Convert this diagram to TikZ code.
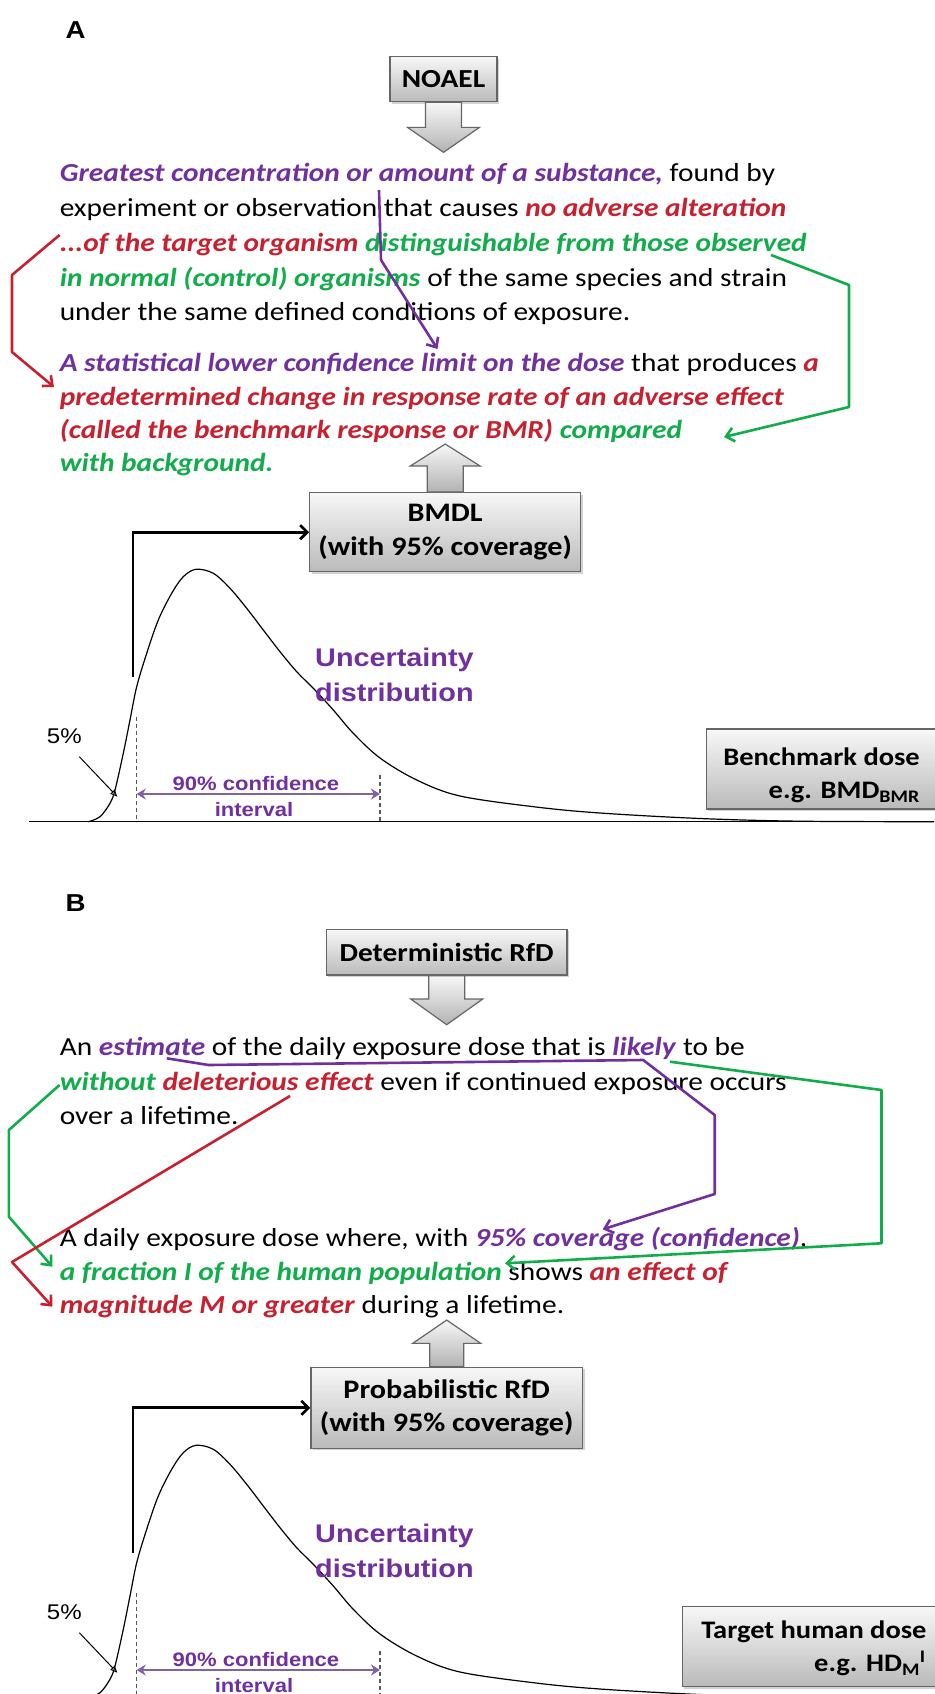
\documentclass[tikz,border=0pt]{standalone}
\usepackage{fontspec}
\setmainfont{Carlito}[FakeStretch=1.13]
\newfontfamily\arialf{Liberation Sans}[FakeStretch=1.13]
\usetikzlibrary{arrows.meta,shadows}
\definecolor{tpurple}{HTML}{7030A0}
\definecolor{tred}{HTML}{C8202F}
\definecolor{tgreen}{HTML}{12AD4B}
\definecolor{lpurple}{HTML}{8064A2}
\newcommand\txpu[1]{\textcolor{tpurple}{\textbf{\textit{#1}}}}
\newcommand\txrd[1]{\textcolor{tred}{\textbf{\textit{#1}}}}
\newcommand\txgr[1]{\textcolor{tgreen}{\textbf{\textit{#1}}}}
\tikzset{
  ln/.style={anchor=base west, inner sep=0pt, font=\fontsize{26}{30}\selectfont},
  graybox/.style={draw=black!60, line width=1.3pt, top color=black!3, bottom color=black!27,
    inner sep=0pt, drop shadow={shadow xshift=2pt, shadow yshift=-2pt, opacity=0.35}},
  blockarrow/.style={draw=black!60, line width=1.2pt, top color=black!3, bottom color=black!30, line join=miter},
  conn/.style={line width=2.6pt, -{Straight Barb[length=8pt,width=14pt]}, line join=round},
  bracket/.style={line width=2.7pt, black, -{Straight Barb[length=7pt,width=14pt]}},
  curveline/.style={line width=1.2pt, black},
  dashline/.style={line width=1.2pt, black!65, dash pattern=on 4pt off 3pt},
  ciarrow/.style={line width=2.7pt, lpurple, {Stealth[length=9pt,width=11pt]}-{Stealth[length=9pt,width=11pt]}},
  arlabel/.style={inner sep=0pt, font=\arialf\bfseries\fontsize{19.5}{19.5}\selectfont, text=tpurple},
  boxlabel/.style={font=\bfseries\fontsize{26.7}{33.3}\selectfont},
  sidelabel/.style={anchor=base east, inner sep=0pt, font=\bfseries\fontsize{25.2}{30}\selectfont}
}
\newcommand\distpart[2]{%
  \draw[curveline] plot[smooth, tension=0.55] coordinates {
    (88.3,821.7) (100,816.7) (110,803.3) (115,790) (123.3,753.3) (130,720) (136.7,686.7)
    (146.7,653.3) (158.3,620) (171.7,593.3) (183.3,576.7) (196,569.3) (213.3,573.3)
    (230,588.3) (246.7,608.3) (263.3,630) (280,651.7) (296.7,671.7) (313.3,688.3)
    (333.3,710) (353.3,733.3) (380,758) (416.7,780) (460,796) (536,807) (600,813)
    (700,818.5) (800,821.2) (934,821.7)};
  \draw[line width=1.5pt] (29,821.7) -- (934,821.7);
  \draw[dashline] (136.7,716.7) -- (136.7,821.7);
  \draw[dashline] (380,775) -- (380,821.7);
  \node[arlabel, anchor=base] (#1ci) at (256,790) {90\% confidence};
  \node[arlabel, anchor=base] (#1int) at (254,816) {interval};
  \draw[ciarrow] (136.7,794) -- (380,794);
  \node[anchor=base west, inner sep=0pt, font=\arialf\fontsize{21.3}{21.3}\selectfont] (#1pct) at (46.7,743.3) {5\%};
  \coordinate (#1pa) at (79.3,756.7);
  \coordinate (#1pb) at (117.3,796.7);
  \draw[line width=1pt, -{Triangle[open, length=7pt, width=6pt]}] (#1pa) -- (#1pb);
  \node[anchor=base west, inner sep=0pt, font=\arialf\bfseries\fontsize{25.5}{25.5}\selectfont, text=tpurple] (#1u1) at (315,666.7) {Uncertainty};
  \node[anchor=base west, inner sep=0pt, font=\arialf\bfseries\fontsize{25.5}{25.5}\selectfont, text=tpurple] (#1u2) at (315,701.7) {distribution};
  \coordinate (#1br) at (133,676.7);
  \draw[bracket] (#1br) |- (#2.west);
}
\begin{document}
\begin{tikzpicture}[x=1pt, y=-1pt]
\useasboundingbox (0,0) rectangle (934,1694);
\fill[white] (0,0) rectangle (934,1694);

% ===== Panel A =====
\node[anchor=base west, inner sep=0pt, font=\arialf\bfseries\fontsize{24.5}{24.5}\selectfont] (labA) at (65.5,38.3) {A};
\node[graybox, minimum width=107pt, minimum height=45pt, font=\bfseries\fontsize{26}{26}\selectfont] (noael) at (443.5,79.2) {NOAEL};
\draw[blockarrow] ([xshift=-18pt]noael.south) -- ++(0,25) -- ++(-18,0) -- ++(36,25) -- ++(36,-25) -- ++(-18,0) -- ++(0,-25) -- cycle;

\node[ln] (a1l1) at (59.6,181.7) {\txpu{Greatest concentration or amount of a substance,} found by};
\node[ln] (a1l2) at (59.6,216.5) {experiment or observation that causes \txrd{no adverse alteration}};
\node[ln] (a1l3) at (59.6,251.3) {\txrd{...of the target organism} \txgr{distinguishable from those observed}};
\node[ln] (a1l4) at (59.6,286.1) {\txgr{in normal (control) organisms} of the same species and strain};
\node[ln] (a1l5) at (59.6,320.3) {under the same defined conditions of exposure.};

\node[ln] (a2l1) at (59.6,371.7) {\txpu{A statistical lower confidence limit on the dose} that produces \txrd{a}};
\node[ln] (a2l2) at (59.6,405) {\txrd{predetermined change in response rate of an adverse effect}};
\node[ln] (a2l3) at (59.6,438.3) {\txrd{(called the benchmark response or BMR)} \txgr{compared}};
\node[ln] (a2l4) at (59.6,471.7) {\txgr{with background.}};

\node[graybox, minimum width=271pt, minimum height=79pt, boxlabel, align=center] (bmdl) at (445.2,532.2) {BMDL\\(with 95\% coverage)};
\draw[blockarrow] ([xshift=-18pt]bmdl.north) -- ++(0,-26) -- ++(-17,0) -- ++(35,-22) -- ++(35,22) -- ++(-17,0) -- ++(0,26) -- cycle;

% connectors A
\coordinate (ap1) at (379,190); \coordinate (ap2) at (381,260); \coordinate (ap3) at (437.5,349);
\draw[conn, tpurple] (ap1) -- (ap2) -- (ap3);
\coordinate (ar1) at (59.6,235); \coordinate (ar2) at (12,275); \coordinate (ar3) at (12,352); \coordinate (ar4) at (54,387);
\draw[conn, tred] (ar1) -- (ar2) -- (ar3) -- (ar4);
\coordinate (ag1) at (771,255); \coordinate (ag2) at (849,285); \coordinate (ag3) at (849,407); \coordinate (ag4) at (724,437);
\draw[conn, tgreen] (ag1) -- (ag2) -- (ag3) -- (ag4);

\begin{scope}
\distpart{a}{bmdl}
\end{scope}
\node[graybox, minimum width=260pt, minimum height=80pt, anchor=north west] (bmd) at (705.8,728.3) {};
\node[sidelabel] (bmdt1) at (920,765) {Benchmark dose};
\node[sidelabel] (bmdt2) at (920,798.3) {e.g. BMD\textsubscript{BMR}};

% ===== Panel B =====
\node[anchor=base west, inner sep=0pt, font=\arialf\bfseries\fontsize{24.5}{24.5}\selectfont] (labB) at (65.5,911.7) {B};
\node[graybox, minimum width=240.6pt, minimum height=45.7pt, font=\bfseries\fontsize{26}{26}\selectfont] (drfd) at (446.7,952.2) {Deterministic RfD};
\draw[blockarrow] ([xshift=-18pt]drfd.south) -- ++(0,23.3) -- ++(-18,0) -- ++(36,25.7) -- ++(36,-25.7) -- ++(-18,0) -- ++(0,-23.3) -- cycle;

\node[ln] (b1l1) at (59.6,1055) {An \txpu{estimate} of the daily exposure dose that is \txpu{likely} to be};
\node[ln] (b1l2) at (59.6,1090) {\txgr{without} \txrd{deleterious effect} even if continued exposure occurs};
\node[ln] (b1l3) at (59.6,1124) {over a lifetime.};

\node[ln] (b2l1) at (59.6,1246.7) {A daily exposure dose where, with \txpu{95\% coverage (confidence)},};
\node[ln] (b2l2) at (59.6,1280) {\txgr{a fraction I of the human population} shows \txrd{an effect of}};
\node[ln] (b2l3) at (59.6,1313.3) {\txrd{magnitude M or greater} during a lifetime.};

\node[graybox, minimum width=271.6pt, minimum height=81pt, boxlabel, align=center] (prfd) at (446.7,1407.8) {Probabilistic RfD\\(with 95\% coverage)};
\draw[blockarrow] ([xshift=-17pt]prfd.north) -- ++(0,-23.3) -- ++(-17,0) -- ++(34,-23.3) -- ++(34,23.3) -- ++(-17,0) -- ++(0,23.3) -- cycle;

% connectors B
\coordinate (bp1) at (166.8,1058.3); \coordinate (bp2) at (208.5,1065); \coordinate (bp3) at (643.2,1060);
\coordinate (bp4) at (714.7,1115); \coordinate (bp5) at (714.7,1194); \coordinate (bp6) at (602.7,1229.3);
\draw[conn, tpurple] (bp1) -- (bp2) -- (bp3) -- (bp4) -- (bp5) -- (bp6);
\coordinate (bg1) at (670,1061.7); \coordinate (bg2) at (881.5,1090); \coordinate (bg3) at (881.5,1243.3); \coordinate (bg4) at (505,1263.3);
\draw[conn, tgreen] (bg1) -- (bg2) -- (bg3) -- (bg4);
\coordinate (bh1) at (59.6,1085); \coordinate (bh2) at (8.9,1130); \coordinate (bh3) at (8.9,1216.7); \coordinate (bh4) at (52.4,1266.7);
\draw[conn, tgreen] (bh1) -- (bh2) -- (bh3) -- (bh4);
\coordinate (br1) at (290,1096); \coordinate (br2) at (12,1262); \coordinate (br3) at (52.4,1306.7);
\draw[conn, tred] (br1) -- (br2) -- (br3);

\begin{scope}[shift={(0,876)}]
\distpart{b}{prfd}
\end{scope}
\node[graybox, minimum width=280pt, minimum height=80pt, anchor=north west] (thd) at (681.7,1606) {};
\node[sidelabel] (thdt1) at (926.7,1638.3) {Target human dose};
\node[sidelabel] (thdt2) at (926,1671.7) {e.g. HD\textsubscript{M}\textsuperscript{I}};
\end{tikzpicture}
\end{document}
